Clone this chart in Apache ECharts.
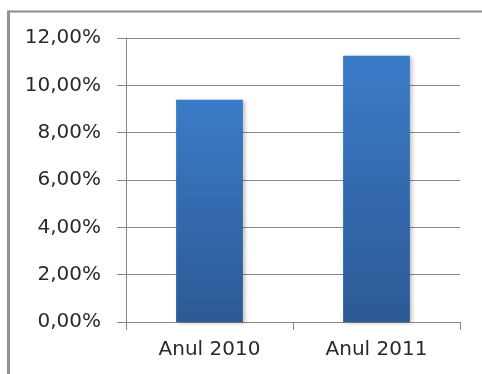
<!DOCTYPE html>
<html>
<head>
<meta charset="utf-8">
<script src="https://cdn.jsdelivr.net/npm/echarts@6/dist/echarts.min.js"></script>
<style>
	html, body { margin: 0; padding: 0; background: #fff; }
	#chart { width: 482px; height: 374px; }
</style>
</head>
<body>
<div id="chart"></div>
<script>
// data
const categories = ['Anul 2010', 'Anul 2011'];
const values = [0.0939, 0.1125];
const yTicks = [0, 0.02, 0.04, 0.06, 0.08, 0.10, 0.12];

const chart = echarts.init(document.getElementById('chart'));

const fmtPct = (v) => (v * 100).toFixed(2).replace('.', ',') + '%';

chart.setOption({
	animation: false,
	textStyle: { fontFamily: 'DejaVu Sans' },
	graphic: [
		{
			// outer frame: top edge and left edge
			type: 'line',
			shape: { x1: 7, y1: 11.5, x2: 482, y2: 11.5 },
			style: { stroke: '#8a8a8a', lineWidth: 2 },
			silent: true
		},
		{
			type: 'line',
			shape: { x1: 8.5, y1: 10.5, x2: 8.5, y2: 374 },
			style: { stroke: '#939393', lineWidth: 3 },
			silent: true
		}
	],
	grid: {
		left: 126,
		right: 22,
		top: 38,
		bottom: 52
	},
	xAxis: {
		type: 'category',
		data: categories,
		axisLine: { lineStyle: { color: '#868686', width: 1 } },
		axisTick: { show: true, length: 8, lineStyle: { color: '#868686' } },
		axisLabel: {
			color: '#2a2a2a',
			fontSize: 20,
			margin: 18
		}
	},
	yAxis: {
		type: 'value',
		min: yTicks[0],
		max: yTicks[yTicks.length - 1],
		interval: 0.02,
		axisLine: { show: true, lineStyle: { color: '#868686', width: 1 } },
		axisTick: { show: true, length: 9, lineStyle: { color: '#868686' } },
		splitLine: { lineStyle: { color: '#868686', width: 1 } },
		axisLabel: {
			color: '#2a2a2a',
			fontSize: 20,
			margin: 25,
			formatter: fmtPct
		}
	},
	series: [
		{
			type: 'bar',
			data: values,
			barWidth: '40%',
			itemStyle: {
				color: new echarts.graphic.LinearGradient(0, 0, 0, 1, [
					{ offset: 0, color: '#3b7bc8' },
					{ offset: 1, color: '#2c5a95' }
				]),
				shadowBlur: 4,
				shadowColor: 'rgba(0,0,0,0.25)',
				shadowOffsetX: 2,
				shadowOffsetY: 1
			}
		}
	]
});
</script>
</body>
</html>
